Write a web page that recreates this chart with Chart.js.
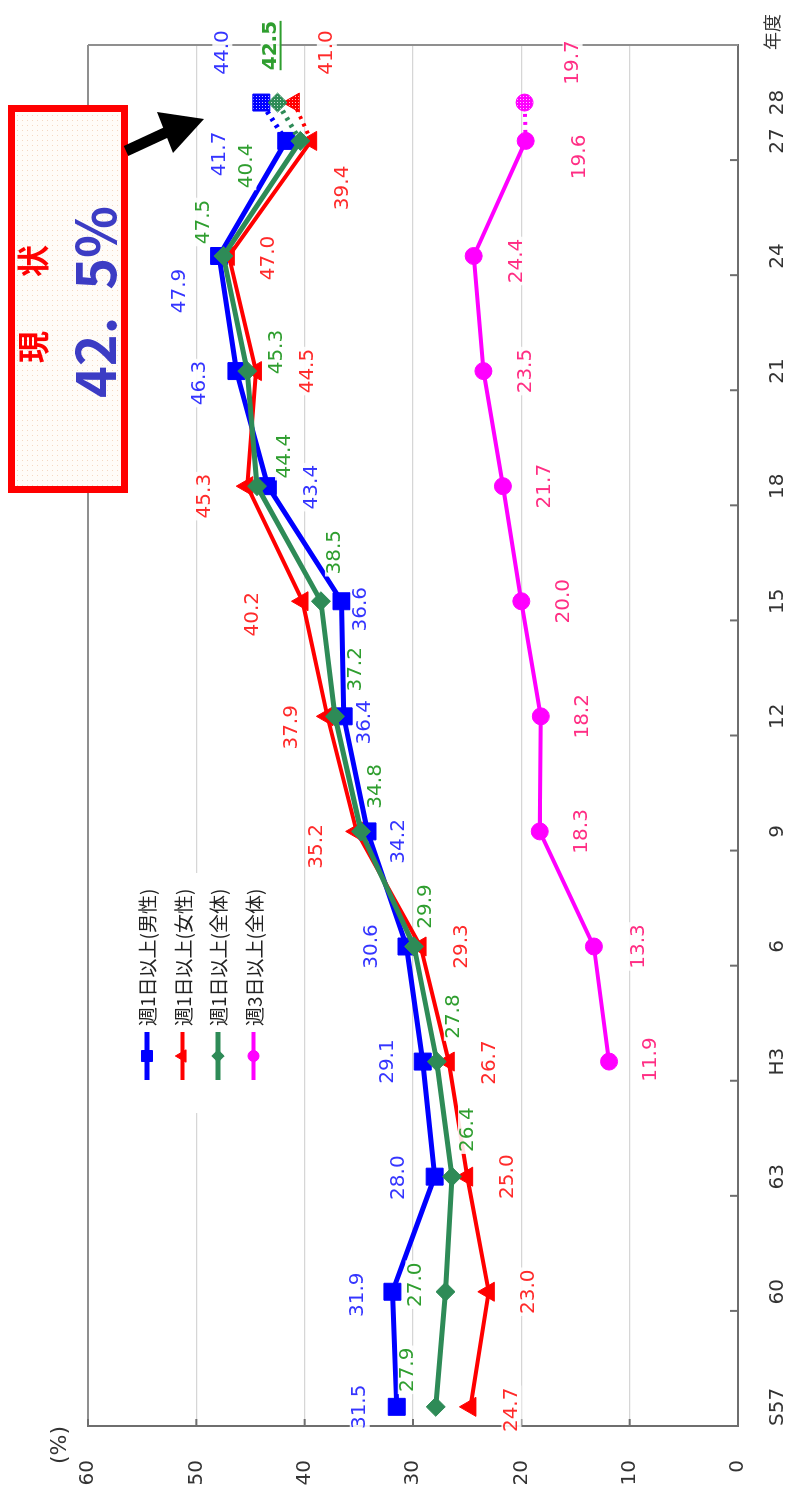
<!DOCTYPE html>
<html lang="ja">
<head>
<meta charset="utf-8">
<title>運動・スポーツ実施率の推移</title>
<script src="https://cdn.jsdelivr.net/npm/chart.js@4.4.1/dist/chart.umd.min.js"></script>
<style>
html,body{margin:0;padding:0;background:#fff;width:786px;height:1493px;overflow:hidden}
/* the chart is laid out landscape and turned a quarter turn counter-clockwise */
#wrap{position:absolute;left:0;top:0;width:1493px;height:786px;transform-origin:0 0;transform:translate(0,1493px) rotate(-90deg);background:#fff}
canvas{display:block}
</style>
</head>
<body>
<div id="wrap"><canvas id="c" width="1493" height="786"></canvas></div>
<script>
// survey years (fiscal) and their labels
const yearLabels = ['S57','60','63','H3','6','9','12','15','18','21','24','27','28'];
const fiscalYears = [1982,1985,1988,1991,1994,1997,2000,2003,2006,2009,2012,2015,2016];

// participation rates (%)
const weekly1Male   = [31.5,31.9,28.0,29.1,30.6,34.2,36.4,36.6,43.4,46.3,47.9,41.7,44.0];
const weekly1Female = [24.7,23.0,25.0,26.7,29.3,35.2,37.9,40.2,45.3,44.5,47.0,39.4,41.0];
const weekly1All    = [27.9,27.0,26.4,27.8,29.9,34.8,37.2,38.5,44.4,45.3,47.5,40.4,42.5];
const weekly3All    = [null,null,null,11.9,13.3,18.3,18.2,20.0,21.7,23.5,24.4,19.6,19.7];

const seriesNames = ['週1日以上(男性)','週1日以上(女性)','週1日以上(全体)','週3日以上(全体)'];
const valueTicks = [0,10,20,30,40,50,60];
const currentRate = 42.5;

// label placement relative to each point, [dx, dy] in px
const maleLabelShift   = [[0,-37],[-3,-35],[-1,-36],[0,-35],[0,-35],[-10,31],[-6,21],[-8,19],[-1,44],[-12,-37],[-35,-39],[-13,-66],[50,-39]];
const femaleLabelShift = [[-3,41],[0,40],[0,41],[-1,41],[0,41],[-15,-40],[-11,-36],[-13,-50],[-10,-42],[0,52],[-2,40],[-47,32],[50,33]];
const allLabelShift    = [[37,-28],[7,-30],[47,16],[45,17],[40,12],[45,15],[47,21],[49,14],[30,28],[19,30],[34,-20],[-25,-54],[57,-7]];
const freq3LabelShift  = [null,null,null,[2,42],[0,45],[0,42],[0,42],[0,42],[0,42],[0,42],[-5,43],[-16,54],[40,48]];

const seriesValues = [weekly1Male, weekly1Female, weekly1All, weekly3All];
const labelShifts = [maleLabelShift, femaleLabelShift, allLabelShift, freq3LabelShift];

const axisGray = '#6e6e6e', frameGray = '#8f8f8f', gridGray = '#d6d6d6', textGray = '#333';
const styles = [
  {color:'#0000ff', label:'#3535ff', point:'rect',     radius:12,  width:5, order:3},
  {color:'#ff0000', label:'#ff2a2a', point:'triangle', radius:11,  width:4, order:2},
  {color:'#2e8b57', label:'#2f9e2f', point:'rectRot',  radius:9.5, width:5, order:1},
  {color:'#ff00ff', label:'#ff2e84', point:'circle',   radius:8.5, width:4, order:4}
];
const lastIdx = fiscalYears.length - 1;
const NUM_FONT = '"DejaVu Sans", Verdana, sans-serif';
const JP_FONT = '"Noto Sans CJK JP", sans-serif';

Chart.defaults.font.family = NUM_FONT;

// stippled fill used for the provisional latest-year markers
function stipple(color) {
  const c = document.createElement('canvas');
  c.width = c.height = 3;
  const g = c.getContext('2d');
  g.fillStyle = color; g.fillRect(0, 0, 3, 3);
  g.fillStyle = 'rgba(255,255,255,0.75)'; g.fillRect(1, 1, 1, 1);
  return g.createPattern(c, 'repeat');
}

const datasets = seriesValues.map((vals, k) => {
  const dotted = stipple(styles[k].color);
  return {
    label: seriesNames[k],
    data: vals.map((v, i) => ({x: fiscalYears[i], y: v})),
    borderColor: styles[k].color,
    backgroundColor: styles[k].color,
    borderWidth: styles[k].width,
    pointStyle: styles[k].point,
    pointRadius: styles[k].radius,
    pointBorderWidth: 1,
    pointBackgroundColor: c => c.dataIndex === lastIdx ? dotted : styles[k].color,
    pointBorderColor: styles[k].color,
    tension: 0,
    order: styles[k].order,
    segment: {
      borderDash: ctx => ctx.p1DataIndex === lastIdx ? [3, 5] : undefined
    }
  };
});

const decor = {
  id: 'decor',
  beforeDatasetsDraw(chart) {
    const {ctx, chartArea: a, scales: {x, y}} = chart;
    ctx.save();
    // right frame
    ctx.strokeStyle = frameGray; ctx.lineWidth = 2;
    ctx.beginPath(); ctx.moveTo(a.right, a.top); ctx.lineTo(a.right, a.bottom); ctx.stroke();
    // inner tick marks on the year axis, between categories every 3 years
    ctx.strokeStyle = axisGray; ctx.lineWidth = 2;
    fiscalYears.forEach(yr => {
      if (yr > fiscalYears[0] && (yr - fiscalYears[0]) % 3 === 0) {
        const px = x.getPixelForValue(yr - 0.5);
        ctx.beginPath(); ctx.moveTo(px, a.bottom - 8); ctx.lineTo(px, a.bottom); ctx.stroke();
      }
    });
    // inner tick marks on the value axis
    valueTicks.forEach(v => {
      if (v === 0) return;
      const py = y.getPixelForValue(v);
      ctx.beginPath(); ctx.moveTo(a.left, py); ctx.lineTo(a.left + 7, py); ctx.stroke();
    });
    ctx.restore();
  },
  afterDatasetsDraw(chart) {
    const {ctx} = chart;
    ctx.save();
    ctx.textAlign = 'center'; ctx.textBaseline = 'middle';
    seriesValues.forEach((vals, k) => {
      const meta = chart.getDatasetMeta(k);
      vals.forEach((v, i) => {
        if (v == null) return;
        const el = meta.data[i];
        const [dx, dy] = labelShifts[k][i];
        const lx = el.x + dx, ly = el.y + dy;
        const txt = v.toFixed(1);
        const strong = (k === 2 && i === lastIdx && v === currentRate);
        ctx.font = (strong ? 'bold ' : '') + '20px ' + NUM_FONT;
        const w = ctx.measureText(txt).width;
        ctx.fillStyle = 'rgba(255,255,255,0.88)';
        ctx.fillRect(lx - w / 2 - 2, ly - 10, w + 4, 20);
        ctx.fillStyle = styles[k].label;
        ctx.fillText(txt, lx, ly);
        if (strong) ctx.fillRect(lx - w / 2, ly + 9, w, 2);
      });
    });
    ctx.restore();
  },
  afterDraw(chart) {
    const {ctx} = chart;
    ctx.save();

    // axis captions
    ctx.fillStyle = textGray; ctx.textAlign = 'center'; ctx.textBaseline = 'middle';
    ctx.font = '22px ' + NUM_FONT;
    ctx.fillText('(%)', 48, 60);
    ctx.font = '18px ' + JP_FONT;
    ctx.fillText('年度', 1461, 772);

    // legend
    ctx.fillStyle = '#fff';
    ctx.fillRect(380, 128, 240, 142);
    seriesNames.forEach((name, k) => {
      const ly = 147 + 35.5 * k;
      ctx.strokeStyle = styles[k].color; ctx.lineWidth = styles[k].width;
      ctx.beginPath(); ctx.moveTo(413, ly); ctx.lineTo(461, ly); ctx.stroke();
      ctx.fillStyle = styles[k].color; ctx.lineWidth = 1;
      Chart.helpers.drawPoint(ctx, {pointStyle: styles[k].point, radius: styles[k].radius * 0.65, borderWidth: 1}, 437, ly);
      ctx.fillStyle = '#222'; ctx.textAlign = 'left'; ctx.textBaseline = 'middle';
      ctx.font = '19px ' + JP_FONT;
      ctx.fillText(name, 467, ly + 1);
    });

    // highlighted current value box
    const pc = document.createElement('canvas');
    pc.width = pc.height = 5;
    const p = pc.getContext('2d');
    p.fillStyle = '#fffcf8'; p.fillRect(0, 0, 5, 5);
    p.fillStyle = '#f4d8c2'; p.fillRect(2, 2, 1, 1);
    ctx.fillStyle = ctx.createPattern(pc, 'repeat');
    ctx.fillRect(1000, 8, 388, 120);
    ctx.strokeStyle = '#ff0000'; ctx.lineWidth = 7;
    ctx.strokeRect(1003.5, 11.5, 381, 113);

    ctx.textBaseline = 'middle'; ctx.textAlign = 'left';
    ctx.font = 'bold 32px ' + JP_FONT;
    ctx.fillStyle = '#ff0000';
    const ls = 11;
    ctx.letterSpacing = ls + 'px';
    const head = '現　状';
    const hw = ctx.measureText(head).width - ls;
    ctx.fillText(head, 1189 - hw / 2, 33);
    ctx.letterSpacing = '0px';

    ctx.font = 'bold 54px ' + JP_FONT;
    ctx.fillStyle = '#3c3cc4';
    const rateText = currentRate.toFixed(1).replace('.', '.\u2002') + '%';
    const rw = ctx.measureText(rateText).width;
    ctx.fillText(rateText, 1191 - rw / 2, 95);

    // arrow from the box to the latest values
    ctx.fillStyle = '#000'; ctx.strokeStyle = '#000';
    ctx.lineWidth = 11; ctx.lineCap = 'butt';
    ctx.beginPath(); ctx.moveTo(1342, 126); ctx.lineTo(1361, 167); ctx.stroke();
    ctx.beginPath();
    ctx.moveTo(1374, 204); ctx.lineTo(1381, 157); ctx.lineTo(1340, 173); ctx.closePath(); ctx.fill();

    ctx.restore();
  }
};

new Chart(document.getElementById('c'), {
  type: 'line',
  data: {datasets},
  plugins: [decor],
  options: {
    responsive: false,
    animation: false,
    events: [],
    layout: {padding: {top: 88, right: 45, left: 0, bottom: 0}},
    plugins: {legend: {display: false}, tooltip: {enabled: false}},
    scales: {
      x: {
        type: 'linear', min: 1981.5, max: 2017.5,
        afterBuildTicks: s => { s.ticks = fiscalYears.map(v => ({value: v})); },
        afterFit: s => { s.height = 48; },
        grid: {display: false},
        border: {display: true, color: axisGray, width: 2},
        ticks: {
          autoSkip: false, maxRotation: 0, minRotation: 0, padding: 20,
          color: textGray, font: {family: NUM_FONT, size: 20},
          callback: v => { const i = fiscalYears.indexOf(v); return i >= 0 ? yearLabels[i] : ''; }
        }
      },
      y: {
        min: 0, max: 60,
        afterBuildTicks: s => { s.ticks = valueTicks.map(v => ({value: v})); },
        afterFit: s => { s.width = 67; },
        grid: {
          drawTicks: false,
          color: c => (c.tick && c.tick.value === 60) ? frameGray : gridGray,
          lineWidth: c => (c.tick && c.tick.value === 60) ? 2 : 1.2
        },
        border: {color: axisGray, width: 2},
        ticks: {padding: 34, color: textGray, font: {family: NUM_FONT, size: 20}}
      }
    }
  }
});
</script>
</body>
</html>
